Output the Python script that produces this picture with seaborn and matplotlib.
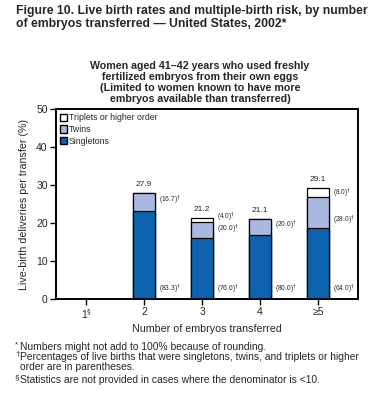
import matplotlib
matplotlib.use("Agg")
import matplotlib.pyplot as plt
import seaborn as sns
import numpy as np
from matplotlib.patches import Patch

# data
categories = ["1", "2", "3", "4", "5+"]
tick_labels = ["1$^{\\S}$", "2", "3", "4", "≥5"]
totals = [0, 27.9, 21.2, 21.1, 29.1]
pct_single = [None, 83.3, 76.0, 80.0, 64.0]
pct_twins = [None, 16.7, 20.0, 20.0, 28.0]
pct_triplets = [None, None, 4.0, None, 8.0]

tot = np.array(totals, dtype=float)
ps = np.array([p or 0 for p in pct_single]) / 100
pt = np.array([p or 0 for p in pct_twins]) / 100
singles = tot * ps
single_twins = singles + tot * pt

sns.set_style("ticks")
plt.rcParams["font.family"] = ["Liberation Sans", "DejaVu Sans"]

fig = plt.figure(figsize=(3.75, 3.97), dpi=100)
ax = fig.add_axes([56 / 375, 1 - 299 / 397, 302 / 375, 190 / 397])

c_single = "#0d63ad"
c_twin = "#a9b9e0"
kw = dict(order=categories, width=0.38, edgecolor="black", linewidth=0.9,
          saturation=1, ax=ax)
sns.barplot(x=categories, y=tot, color="white", **kw)
sns.barplot(x=categories, y=single_twins, color=c_twin, **kw)
sns.barplot(x=categories, y=singles, color=c_single, **kw)

ax.set_xlim(-0.52, 4.69)
ax.set_ylim(0, 50)
ax.set_yticks([0, 10, 20, 30, 40, 50])
ax.set_xticks(range(len(categories)))
ax.set_xticklabels(tick_labels)
ax.tick_params(labelsize=7.5, length=4, width=1, pad=2, color="black")
for s in ax.spines.values():
    s.set_linewidth(1.4)
    s.set_color("black")
ax.set_xlabel("Number of embryos transferred", fontsize=7.7, labelpad=2)
ax.set_ylabel("Live-birth deliveries per transfer (%)", fontsize=7.7, labelpad=5)

# totals above bars
for i, t in enumerate(totals):
    if t > 0:
        ax.text(i, t + 1.4, f"{t:.1f}", ha="center", va="bottom", fontsize=6)

# percentages in parentheses, next to each segment
def pct_label(i, y, p):
    ax.text(i + 0.26, y, f"({p:.1f})$^{{\\dagger}}$", ha="left", va="center",
            fontsize=4.8)

for i in range(len(categories)):
    if pct_single[i] is not None:
        pct_label(i, 2.6, pct_single[i])
    if pct_twins[i] is not None:
        if pct_triplets[i] is None:
            y = (singles[i] + single_twins[i]) / 2 + 0.3
        else:
            y = singles[i] + 2.2
        pct_label(i, y, pct_twins[i])
    if pct_triplets[i] is not None:
        pct_label(i, tot[i] - 1.3 if tot[i] > 25 else tot[i] + 0.2, pct_triplets[i])

handles = [Patch(facecolor="white", edgecolor="black", label="Triplets or higher order"),
           Patch(facecolor=c_twin, edgecolor="black", label="Twins"),
           Patch(facecolor=c_single, edgecolor="black", label="Singletons")]
ax.legend(handles=handles, loc="upper left", fontsize=6.3, frameon=False,
          handlelength=0.8, handleheight=0.9, handletextpad=0.2,
          labelspacing=0.3, borderaxespad=0.3, borderpad=0.2)

fig.text(16 / 375, 1 - 5 / 397,
         "Figure 10. Live birth rates and multiple-birth risk, by number\n"
         "of embryos transferred — United States, 2002*",
         ha="left", va="top", fontsize=8.8, fontweight="bold", linespacing=1.15)
fig.text(200 / 375, 1 - 61 / 397,
         "Women aged 41–42 years who used freshly\n"
         "fertilized embryos from their own eggs\n"
         "(Limited to women known to have more\n"
         "embryos available than transferred)",
         ha="center", va="top", fontsize=7.7, fontweight="bold", linespacing=1.12)

foot_x = 15 / 375
tx = 20 / 375
fig.text(foot_x, 1 - 341 / 397, "*", fontsize=5.5, va="top")
fig.text(tx, 1 - 342 / 397,
         "Numbers might not add to 100% because of rounding.",
         fontsize=7.4, va="top")
fig.text(foot_x, 1 - 351 / 397, "†", fontsize=6, va="top")
fig.text(tx, 1 - 352 / 397,
         "Percentages of live births that were singletons, twins, and triplets or higher\n"
         "order are in parentheses.",
         fontsize=7.4, va="top", linespacing=1.05)
fig.text(foot_x, 1 - 374 / 397, "§", fontsize=6, va="top")
fig.text(tx, 1 - 375 / 397,
         "Statistics are not provided in cases where the denominator is <10.",
         fontsize=7.4, va="top")

fig.savefig("out.png", dpi=100)
